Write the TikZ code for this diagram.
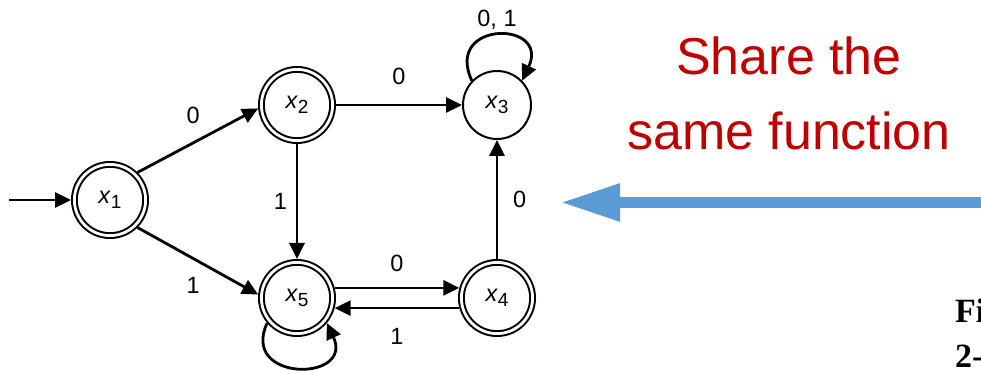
\documentclass[tikz,border=0pt]{standalone}
\usepackage{fontspec}
\setmainfont{Liberation Sans}
\newfontfamily\capfont{Liberation Serif}
\usetikzlibrary{arrows.meta}
\definecolor{sharered}{HTML}{C00000}
\definecolor{arrowblue}{HTML}{5B9BD5}
\newcommand{\xs}[1]{\textit{x}\raisebox{-5pt}{\fontsize{19}{19}\selectfont #1}}

\begin{document}
\begin{tikzpicture}[x=1pt, y=1pt,
    state/.style ={circle, draw, line width=2pt, minimum size=68pt, inner sep=0pt, font=\fontsize{23.5}{28}\selectfont},
    finalstate/.style ={state, double, double distance=2.8pt, minimum size=71.2pt, outer sep=3.4pt},
    transition/.style ={line width=2.8pt, -{Triangle[length=16pt,width=15pt]}},
    edgetext/.style ={inner sep=2pt, font=\fontsize{23.5}{28}\selectfont},
    sharetext/.style ={inner sep=0pt, text=sharered, font=\fontsize{52}{60}\selectfont},
    captext/.style ={inner sep=0pt, font=\capfont\bfseries\fontsize{34}{40}\selectfont}]
   \useasboundingbox (0,0) rectangle (981,371);
   \node[finalstate] (x1) at (110,171) {\xs{1}};
   \node[finalstate] (x2) at (297,266) {\xs{2}};
   \node[state] (x3) at (497,266) {\xs{3}};
   \node[finalstate] (x5) at (297,73) {\xs{5}};
   \node[finalstate] (x4) at (497,73) {\xs{4}};
   \coordinate (start) at (9,171);
   \draw[transition] (start) to (x1);
   \draw[transition] (x1.45) to node[edgetext, pos=0.46, above=16pt] (l12) {0} (x2.185);
   \draw[transition] (x1.-45) to node[edgetext, pos=0.46, below=16pt] (l15) {1} (x5.175);
   \draw[transition] (x2) to node[edgetext, above=17pt] (l23) {0} (x3);
   \draw[transition] (x2) to node[edgetext, left=6.6pt] (l25) {1} (x5);
   \draw[transition] (x4) to node[edgetext, right=12.6pt] (l43) {0} (x3);
   \draw[transition] (x5.15) to node[edgetext, above=12.7pt] (l54) {0} (x4.165);
   \draw[transition] (x4.195) to node[edgetext, below=16.6pt] (l45) {1} (x5.-15);
   \draw[transition] (x3.136) to[out=115, in=65, looseness=3.4] node[edgetext, above=2pt] (l33) {0, 1} (x3.44);
   \draw[transition] (x5.220) to[out=245, in=295, looseness=2.8] (x5.320);
   % blue arrow
   \coordinate (bluetail) at (990,168.5);
   \coordinate (bluetip) at (560,168.5);
   \draw[line width=11.5pt, arrowblue, -{Triangle[length=60pt,width=35pt]}] (bluetail) to (bluetip);
   \node[sharetext, anchor=base] (share) at (789,296) {Share the};
   \node[sharetext, anchor=base] (same) at (789,221) {same function};
   \node[captext, anchor=base west] (fig) at (955,48) {Fi};
   \node[captext, anchor=base west] (num) at (955,3) {2-};
 \end{tikzpicture}
\end{document}
